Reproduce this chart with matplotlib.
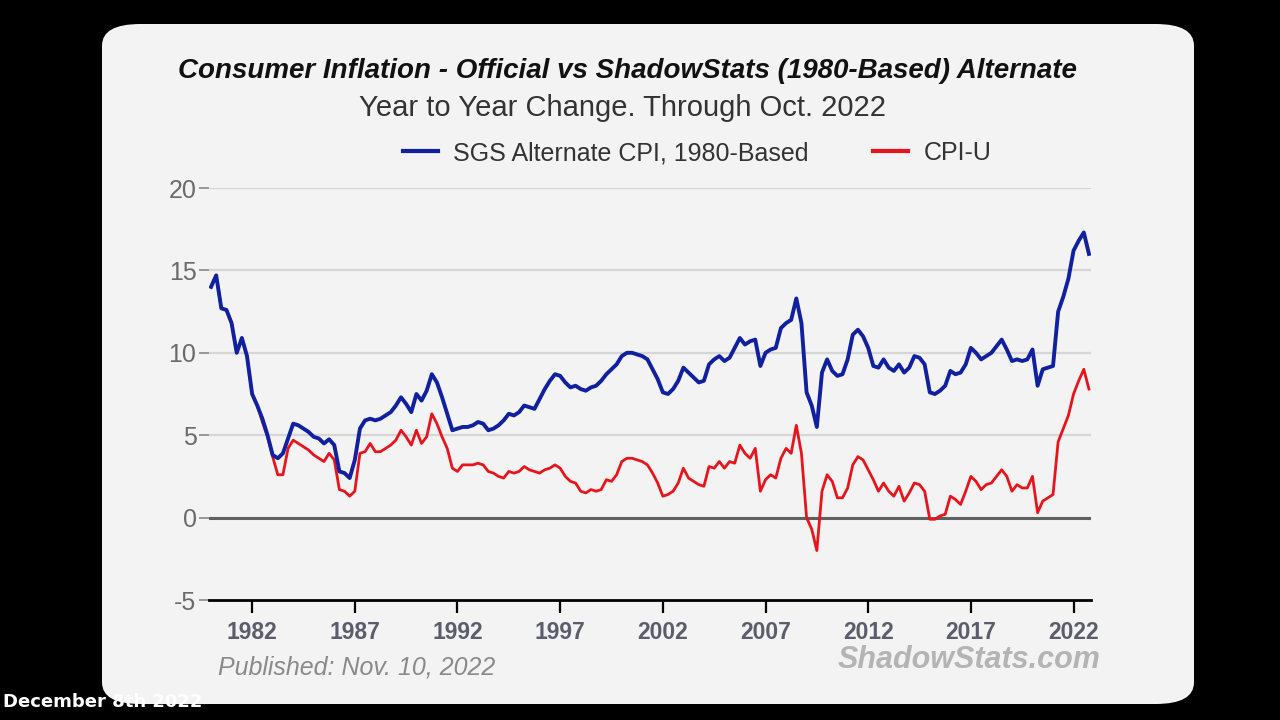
import numpy as np
import matplotlib.pyplot as plt
from matplotlib.patches import FancyBboxPatch
from matplotlib.lines import Line2D

# quarterly readings (Jan, Apr, Jul, Oct) 1980 .. Oct 2022
years = np.arange(1980, 2023)
sgs_alt = [
    14.0, 14.7, 12.7, 12.6,   # 1980
    11.8, 10.0, 10.9, 9.8,    # 1981
    7.5, 6.8, 6.0, 5.0,       # 1982
    3.8, 3.6, 3.9, 4.8,       # 1983
    5.7, 5.6, 5.4, 5.2,       # 1984
    4.9, 4.8, 4.5, 4.75,      # 1985
    4.4, 2.8, 2.7, 2.4,       # 1986
    3.5, 5.4, 5.9, 6.0,       # 1987
    5.9, 6.0, 6.2, 6.4,       # 1988
    6.8, 7.3, 6.9, 6.4,       # 1989
    7.5, 7.1, 7.7, 8.7,       # 1990
    8.2, 7.3, 6.3, 5.3,       # 1991
    5.4, 5.5, 5.5, 5.6,       # 1992
    5.8, 5.7, 5.3, 5.4,       # 1993
    5.6, 5.9, 6.3, 6.2,       # 1994
    6.4, 6.8, 6.7, 6.6,       # 1995
    7.2, 7.8, 8.3, 8.7,       # 1996
    8.6, 8.2, 7.9, 8.0,       # 1997
    7.8, 7.7, 7.9, 8.0,       # 1998
    8.3, 8.7, 9.0, 9.3,       # 1999
    9.8, 10.0, 10.0, 9.9,     # 2000
    9.8, 9.6, 9.0, 8.4,       # 2001
    7.6, 7.5, 7.8, 8.3,       # 2002
    9.1, 8.8, 8.5, 8.2,       # 2003
    8.3, 9.3, 9.6, 9.8,       # 2004
    9.5, 9.7, 10.3, 10.9,     # 2005
    10.5, 10.7, 10.8, 9.2,    # 2006
    10.0, 10.2, 10.3, 11.5,   # 2007
    11.8, 12.0, 13.3, 11.8,   # 2008
    7.6, 6.8, 5.5, 8.8,       # 2009
    9.6, 8.9, 8.6, 8.7,       # 2010
    9.6, 11.1, 11.4, 11.0,    # 2011
    10.3, 9.2, 9.1, 9.6,      # 2012
    9.1, 8.9, 9.3, 8.8,       # 2013
    9.1, 9.8, 9.7, 9.3,       # 2014
    7.6, 7.5, 7.7, 8.0,       # 2015
    8.9, 8.7, 8.8, 9.3,       # 2016
    10.3, 10.0, 9.6, 9.8,     # 2017
    10.0, 10.4, 10.8, 10.2,   # 2018
    9.5, 9.6, 9.5, 9.6,       # 2019
    10.2, 8.0, 9.0, 9.1,      # 2020
    9.2, 12.5, 13.4, 14.5,    # 2021
    16.2, 16.8, 17.3, 16.0,   # 2022
]
cpi_u = [
    14.0, 14.7, 12.7, 12.6,
    11.8, 10.0, 10.9, 9.8,
    7.5, 6.8, 5.8, 4.9,
    3.7, 2.6, 2.6, 4.2,
    4.7, 4.5, 4.3, 4.1,
    3.8, 3.6, 3.4, 3.9,
    3.5, 1.7, 1.6, 1.3,
    1.6, 3.9, 4.0, 4.5,
    4.0, 4.0, 4.2, 4.4,
    4.7, 5.3, 4.9, 4.4,
    5.3, 4.5, 4.9, 6.3,
    5.7, 4.9, 4.2, 3.0,
    2.8, 3.2, 3.2, 3.2,
    3.3, 3.2, 2.8, 2.7,
    2.5, 2.4, 2.8, 2.7,
    2.8, 3.1, 2.9, 2.8,
    2.7, 2.9, 3.0, 3.2,
    3.0, 2.5, 2.2, 2.1,
    1.6, 1.5, 1.7, 1.6,
    1.7, 2.3, 2.2, 2.6,
    3.4, 3.6, 3.6, 3.5,
    3.4, 3.2, 2.7, 2.1,
    1.3, 1.4, 1.6, 2.1,
    3.0, 2.4, 2.2, 2.0,
    1.9, 3.1, 3.0, 3.4,
    3.0, 3.4, 3.3, 4.4,
    3.9, 3.6, 4.2, 1.6,
    2.3, 2.6, 2.4, 3.6,
    4.2, 3.9, 5.6, 3.9,
    0.0, -0.7, -2.0, 1.6,
    2.6, 2.2, 1.2, 1.2,
    1.8, 3.2, 3.7, 3.5,
    2.9, 2.3, 1.6, 2.1,
    1.6, 1.3, 1.9, 1.0,
    1.5, 2.1, 2.0, 1.6,
    -0.1, -0.1, 0.1, 0.2,
    1.3, 1.1, 0.8, 1.6,
    2.5, 2.2, 1.7, 2.0,
    2.1, 2.5, 2.9, 2.5,
    1.6, 2.0, 1.8, 1.8,
    2.5, 0.3, 1.0, 1.2,
    1.4, 4.6, 5.4, 6.2,
    7.5, 8.3, 9.0, 7.8,
]
t = np.repeat(years, 4) + np.tile([0.0, 0.25, 0.5, 0.75], len(years))
xticks = [1982, 1987, 1992, 1997, 2002, 2007, 2012, 2017, 2022]
yticks = [-5, 0, 5, 10, 15, 20]

plt.rcParams['font.family'] = ['Liberation Sans', 'DejaVu Sans']

fig = plt.figure(figsize=(12.8, 7.2), dpi=100, facecolor='black')
paper = '#f3f3f3'
fig.patches.append(FancyBboxPatch((102 / 1280, 1 - 704 / 720), 1092 / 1280, 680 / 720,
                                  boxstyle='round,pad=0,rounding_size=0.03',
                                  transform=fig.transFigure, facecolor=paper,
                                  edgecolor='none', zorder=-10))

ax = fig.add_axes([209 / 1280, 1 - 600 / 720, 882 / 1280, 412 / 720])
ax.set_zorder(5)
ax.set_facecolor(paper)
ax.set_xlim(1979.9, 2022.85)
ax.set_ylim(-5, 20)

for y in [5, 10, 15, 20]:
    ax.axhline(y, color='#d6d6d6', lw=1.6, zorder=1)
ax.axhline(0, color='#606060', lw=2.2, zorder=1)

ax.plot(t, cpi_u, color='#e8141b', lw=2.0, zorder=3)
ax.plot(t, sgs_alt, color='#1020a0', lw=2.8, zorder=4)

for s in ['left', 'right', 'top']:
    ax.spines[s].set_visible(False)
ax.spines['bottom'].set_color('black')
ax.spines['bottom'].set_linewidth(2)

ax.set_yticks(yticks)
ax.set_yticklabels([str(v) for v in yticks])
ax.tick_params(axis='y', length=7, width=1.2, color='#888888', labelcolor='#6a6a6a',
               labelsize=18, pad=2)
ax.set_xticks(xticks)
ax.set_xticklabels([str(v) for v in xticks], fontweight='bold')
ax.tick_params(axis='x', length=9, width=1.6, color='black', labelcolor='#5c5c6c',
               labelsize=16.5, pad=6)

fig.text(0.49, 1 - 71 / 720, 'Consumer Inflation - Official vs ShadowStats (1980-Based) Alternate',
         ha='center', va='center', fontsize=20, fontweight='bold', fontstyle='italic',
         color='#111111')
fig.text(0.486, 1 - 108 / 720, 'Year to Year Change. Through Oct. 2022',
         ha='center', va='center', fontsize=21, color='#333333')

handles = [Line2D([], [], color='#1020a0', lw=3), Line2D([], [], color='#e8141b', lw=3)]
fig.legend(handles, ['SGS Alternate CPI, 1980-Based', 'CPI-U'], ncol=2, frameon=False,
           loc='center', bbox_to_anchor=(697 / 1280, 1 - 153 / 720), fontsize=18,
           handlelength=1.4, handletextpad=0.6, columnspacing=2.6, labelcolor='#333333')

fig.text(218 / 1280, 1 - 667 / 720, 'Published: Nov. 10, 2022', ha='left', va='center',
         fontsize=18, fontstyle='italic', color='#8a8a8a')
fig.text(1100 / 1280, 1 - 660 / 720, 'ShadowStats.com', ha='right', va='center',
         fontsize=22, fontstyle='italic', fontweight='bold', color='#b4b4b4')
fig.text(3 / 1280, 1 - 702 / 720, 'December 8th 2022', ha='left', va='center',
         fontsize=13, fontweight='bold', color='white', family='DejaVu Sans')

fig.savefig('out.png', dpi=100, facecolor='black')
